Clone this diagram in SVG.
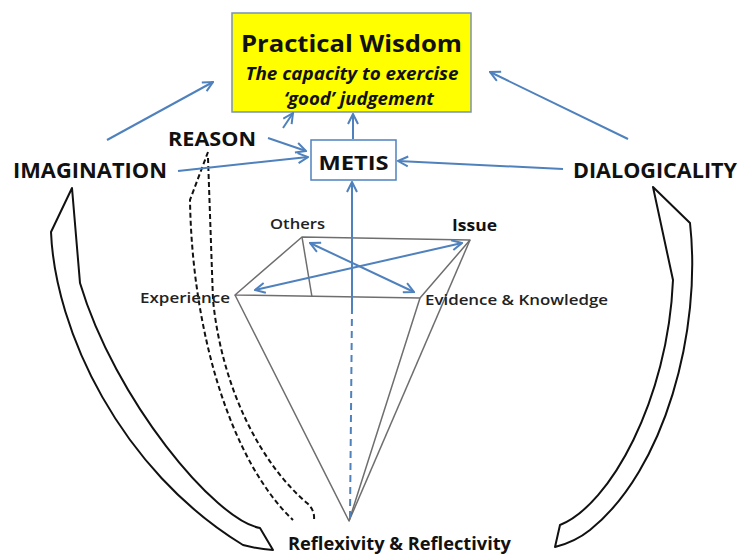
<svg xmlns="http://www.w3.org/2000/svg" width="739" height="554" viewBox="0 0 739 554">
  <defs>
    <marker id="arr" viewBox="0 0 12 12" refX="11" refY="6" markerWidth="6" markerHeight="6" orient="auto" markerUnits="strokeWidth">
      <path d="M1,1 L11,6 L1,11" fill="none" stroke="#4f81bd" stroke-width="2" stroke-linejoin="miter"/>
    </marker>
    <marker id="arrS" viewBox="0 0 12 12" refX="11" refY="6" markerWidth="6" markerHeight="6" orient="auto-start-reverse" markerUnits="strokeWidth">
      <path d="M1,1 L11,6 L1,11" fill="none" stroke="#4f81bd" stroke-width="2"/>
    </marker>
  </defs>
  <style>
    .lbl { font-family: "Open Sans", "Noto Sans", "Liberation Sans", sans-serif; font-weight: 700; fill: #111; }
    .small { font-family: "Open Sans", "Noto Sans", "Liberation Sans", sans-serif; font-weight: 600; fill: #222; }
    .blue { stroke: #4f81bd; stroke-width: 2; fill: none; }
    .edge { stroke: #6e6e6e; stroke-width: 1.5; fill: none; stroke-linejoin: round; }
    .band { stroke: #111; stroke-width: 2; fill: #fff; stroke-linejoin: round; }
    .dash { stroke: #111; stroke-width: 2; fill: none; stroke-dasharray: 5 3; }
  </style>
  <rect width="739" height="554" fill="#fff"/>

  <!-- pyramid of the four considerations -->
  <g id="pyramid">
    <path class="edge" d="M235,295 L302,237 L470,240 L420,298 Z"/>
    <path class="edge" d="M302,237 L312,297"/>
    <path class="edge" d="M235,295 L349,521 L420,298"/>
    <path class="edge" d="M470,240 L349,521"/>
  </g>

  <!-- curved bands -->
  <g id="imagination-band">
    <path class="band" d="M72,188 L51,232 C 55,330 120,470 243,545 Q 258,549 273,550 L260,528 C 215,520 115,400 80,283 Z"/>
  </g>
  <g id="dialogicality-band">
    <path class="band" d="M653,187 L690,223 C 702,330 665,470 590,530 Q 575,542 555,547 L560,525 C 610,505 668,400 673,280 Z"/>
  </g>
  <g id="reason-paths">
    <path class="dash" d="M208,152 L190,200 C 192,330 230,460 293,520"/>
    <path class="dash" d="M208,158 L213,300 C 222,390 262,465 307,503 Q 315,510 314,520"/>
  </g>

  <!-- nodes -->
  <g id="practical-wisdom">
    <rect x="232" y="13" width="239" height="99" fill="#ffff00" stroke="#7a93b5" stroke-width="1.5"/>
    <text class="lbl" x="351.5" y="52" font-size="24" text-anchor="middle" textLength="221" lengthAdjust="spacingAndGlyphs">Practical Wisdom</text>
    <text class="lbl" x="352" y="80" font-size="17" font-style="italic" text-anchor="middle" textLength="213" lengthAdjust="spacingAndGlyphs">The capacity to exercise</text>
    <text class="lbl" x="359" y="105" font-size="17" font-style="italic" text-anchor="middle" textLength="150" lengthAdjust="spacingAndGlyphs">‘good’ judgement</text>
  </g>
  <g id="metis">
    <rect x="311" y="140" width="85" height="40" fill="#fff" stroke="#4f81bd" stroke-width="1.5"/>
    <text class="lbl" x="353.5" y="170" font-size="20" text-anchor="middle" textLength="70" lengthAdjust="spacingAndGlyphs">METIS</text>
  </g>
  <g id="imagination">
    <text class="lbl" x="13" y="178" font-size="21" textLength="154" lengthAdjust="spacingAndGlyphs">IMAGINATION</text>
  </g>
  <g id="reason">
    <text class="lbl" x="168" y="146" font-size="20" textLength="88" lengthAdjust="spacingAndGlyphs">REASON</text>
  </g>
  <g id="dialogicality">
    <text class="lbl" x="573" y="178" font-size="21" textLength="164" lengthAdjust="spacingAndGlyphs">DIALOGICALITY</text>
  </g>
  <g id="others">
    <text class="small" x="270" y="229" font-size="14" textLength="55" lengthAdjust="spacingAndGlyphs">Others</text>
  </g>
  <g id="issue">
    <text class="lbl" x="452" y="231" font-size="16" textLength="45" lengthAdjust="spacingAndGlyphs">Issue</text>
  </g>
  <g id="experience">
    <text class="small" x="140" y="303" font-size="14" textLength="90" lengthAdjust="spacingAndGlyphs">Experience</text>
  </g>
  <g id="evidence">
    <text class="small" x="425" y="305" font-size="15" textLength="183" lengthAdjust="spacingAndGlyphs">Evidence &amp; Knowledge</text>
  </g>
  <g id="reflexivity">
    <text class="lbl" x="288" y="550" font-size="17" textLength="223" lengthAdjust="spacingAndGlyphs">Reflexivity &amp; Reflectivity</text>
  </g>

  <!-- connectors -->
  <g id="connectors">
    <line class="blue" x1="107" y1="140" x2="213" y2="82" marker-end="url(#arr)"/>
    <line class="blue" x1="283" y1="128" x2="293" y2="113" marker-end="url(#arr)"/>
    <line class="blue" x1="268" y1="138" x2="306" y2="151" marker-end="url(#arr)"/>
    <line class="blue" x1="178" y1="171" x2="308" y2="157" marker-end="url(#arr)"/>
    <line class="blue" x1="563" y1="169" x2="398" y2="161" marker-end="url(#arr)"/>
    <line class="blue" x1="628" y1="139" x2="490" y2="72" marker-end="url(#arr)"/>
    <line class="blue" x1="353" y1="139" x2="353" y2="114" marker-end="url(#arr)"/>
    <line class="blue" x1="352" y1="308" x2="352" y2="182" marker-end="url(#arr)"/>
    <line class="blue" x1="350" y1="518" x2="352" y2="308" stroke-dasharray="7 5"/>
    <line class="blue" x1="255" y1="290" x2="462" y2="243" marker-start="url(#arrS)" marker-end="url(#arrS)"/>
    <line class="blue" x1="310" y1="243" x2="414" y2="292" marker-start="url(#arrS)" marker-end="url(#arrS)"/>
  </g>
</svg>
